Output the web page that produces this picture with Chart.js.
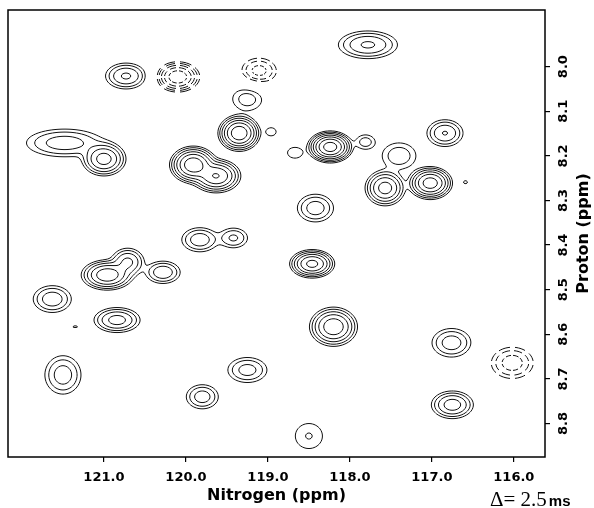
<!DOCTYPE html>
<html>
<head>
<meta charset="utf-8">
<script src="https://cdn.jsdelivr.net/npm/chart.js@4.4.1/dist/chart.umd.min.js"></script>
<style>
  html, body { margin: 0; padding: 0; background: #fff; }
  #wrap { width: 594px; height: 508px; }
</style>
</head>
<body>
<div id="wrap"><canvas id="hsqc" width="594" height="508"></canvas></div>
<script>
// peak list
// 15N shift, 1H shift, height (in units of the lowest contour), half-width of lowest contour
const peakN = [120.73, 120.10, 119.11, 119.25, 119.35, 118.96, 119.91, 119.63, 121.48, 121.00,
               117.78, 118.24, 117.81, 118.67, 117.40, 117.57, 117.02, 116.59, 116.84, 118.42,
               119.83, 119.42, 120.96, 120.71, 120.28, 121.63, 120.84, 121.35, 121.50, 119.25,
               119.80, 118.46, 118.20, 118.50, 116.76, 116.02, 116.75];
const peakH = [8.021, 8.023, 8.010, 8.072, 8.149, 8.146, 8.220, 8.245, 8.171, 8.207,
               7.951, 8.180, 8.169, 8.193, 8.200, 8.272, 8.261, 8.259, 8.149, 8.317,
               8.388, 8.384, 8.467, 8.438, 8.461, 8.521, 8.568, 8.583, 8.691, 8.680,
               8.740, 8.442, 8.583, 8.828, 8.619, 8.664, 8.758];
const peakAmp = [2.9, -5.0, -2.3, 1.7, 7.0, 1.3, 7.0, 5.5, 2.4, 4.5,
                 2.9, 9.0, 1.7, 1.3, 1.8, 4.5, 6.5, 1.2, 2.8, 2.4,
                 2.5, 2.1, 5.0, 3.0, 2.6, 2.5, 3.2, 1.2, 2.4, 2.3,
                 2.4, 6.0, 5.0, 1.43, 2.4, -2.4, 3.3];
const peakWidthN = [0.250, 0.269, 0.214, 0.180, 0.260, 0.060, 0.290, 0.300, 0.464, 0.269,
                    0.360, 0.280, 0.115, 0.090, 0.205, 0.245, 0.272, 0.024, 0.220, 0.220,
                    0.220, 0.171, 0.317, 0.200, 0.210, 0.232, 0.281, 0.030, 0.220, 0.238,
                    0.195, 0.275, 0.293, 0.165, 0.238, 0.256, 0.256];
const peakWidthH = [0.029, 0.034, 0.029, 0.026, 0.041, 0.009, 0.042, 0.038, 0.031, 0.038,
                    0.031, 0.036, 0.016, 0.012, 0.029, 0.040, 0.037, 0.0034, 0.030, 0.031,
                    0.027, 0.022, 0.034, 0.031, 0.025, 0.030, 0.028, 0.002, 0.043, 0.028,
                    0.027, 0.032, 0.044, 0.028, 0.032, 0.035, 0.031];

const levels = [1, 1.4, 1.96, 2.74, 3.84, 5.38, 7.53, 10.54];
const nitrogenTicks = [121, 120, 119, 118, 117, 116];
const protonTicks = [8.0, 8.1, 8.2, 8.3, 8.4, 8.5, 8.6, 8.7, 8.8];
const nitrogenRange = [115.62, 122.17];
const protonRange = [7.873, 8.875];

// marching squares on a pixel grid, calls seg() for each piece of the contour
const edgeTable = {1: [3, 2], 2: [2, 1], 3: [3, 1], 4: [0, 1], 5: [3, 0, 2, 1], 6: [0, 2], 7: [3, 0],
                   8: [3, 0], 9: [0, 2], 10: [0, 1, 3, 2], 11: [0, 1], 12: [3, 1], 13: [2, 1], 14: [3, 2]};

function march(field, nx, ny, sign, lev, seg) {
    for (let j = 0; j < ny - 1; j++) {
        for (let i = 0; i < nx - 1; i++) {
            const a = sign * field[j * nx + i], b = sign * field[j * nx + i + 1];
            const c = sign * field[(j + 1) * nx + i + 1], d = sign * field[(j + 1) * nx + i];
            const idx = (a > lev ? 8 : 0) | (b > lev ? 4 : 0) | (c > lev ? 2 : 0) | (d > lev ? 1 : 0);
            if (idx === 0 || idx === 15) continue;
            const pt = e => {
                if (e === 0) return [i + (lev - a) / (b - a), j];
                if (e === 1) return [i + 1, j + (lev - b) / (c - b)];
                if (e === 2) return [i + (lev - d) / (c - d), j + 1];
                return [i, j + (lev - a) / (d - a)];
            };
            const es = edgeTable[idx];
            for (let k = 0; k < es.length; k += 2) {
                const p = pt(es[k]), q = pt(es[k + 1]);
                seg(p[0], p[1], q[0], q[1]);
            }
        }
    }
}

const contourPlugin = {
    id: 'contours',
    beforeDatasetsDraw(chart) {
        const {ctx, chartArea: area, scales: {x, y}} = chart;
        const x0 = Math.floor(area.left), y0 = Math.floor(area.top);
        const nx = Math.ceil(area.right) - x0 + 1, ny = Math.ceil(area.bottom) - y0 + 1;

        const peaks = peakN.map((n, i) => {
            const k = Math.sqrt(2 * Math.log(Math.abs(peakAmp[i])));
            const cx = x.getPixelForValue(n), cy = y.getPixelForValue(peakH[i]);
            return {
                cx, cy, a: peakAmp[i],
                sx: Math.abs(x.getPixelForValue(n + peakWidthN[i]) - cx) / k,
                sy: Math.abs(y.getPixelForValue(peakH[i] + peakWidthH[i]) - cy) / k
            };
        });

        // overlapping peaks are combined as a root of summed squares, so neighbours
        // merge only where their own contours come close
        const pos = new Float32Array(nx * ny), neg = new Float32Array(nx * ny);
        peaks.forEach(p => {
            const acc = p.a > 0 ? pos : neg, a2 = p.a * p.a;
            const i0 = Math.max(0, Math.floor(p.cx - 5 * p.sx - x0)), i1 = Math.min(nx - 1, Math.ceil(p.cx + 5 * p.sx - x0));
            const j0 = Math.max(0, Math.floor(p.cy - 5 * p.sy - y0)), j1 = Math.min(ny - 1, Math.ceil(p.cy + 5 * p.sy - y0));
            for (let j = j0; j <= j1; j++) {
                const dy = (y0 + j - p.cy) / p.sy;
                for (let i = i0; i <= i1; i++) {
                    const dx = (x0 + i - p.cx) / p.sx;
                    acc[j * nx + i] += a2 * Math.exp(-(dx * dx + dy * dy));
                }
            }
        });
        const field = new Float32Array(nx * ny);
        for (let k = 0; k < field.length; k++) field[k] = Math.sqrt(pos[k]) - Math.sqrt(neg[k]);

        const negs = peaks.filter(p => p.a < 0);
        const dashOn = (mx, my) => {
            let best = null, bd = Infinity;
            negs.forEach(p => {
                const dd = ((mx - p.cx) / p.sx) ** 2 + ((my - p.cy) / p.sy) ** 2;
                if (dd < bd) { bd = dd; best = p; }
            });
            const ang = Math.atan2((my - best.cy) / best.sy, (mx - best.cx) / best.sx);
            const t = ang / (2 * Math.PI) * 8 + 8;
            const f = t - Math.floor(t);
            return f > 0.16 && f < 0.84;
        };

        ctx.save();
        ctx.beginPath();
        ctx.rect(area.left, area.top, area.right - area.left, area.bottom - area.top);
        ctx.clip();
        ctx.strokeStyle = '#111';
        ctx.lineWidth = 1;
        levels.forEach(lev => {
            [1, -1].forEach(sign => {
                ctx.beginPath();
                march(field, nx, ny, sign, lev, (ax, ay, bx, by) => {
                    ax += x0; bx += x0; ay += y0; by += y0;
                    if (sign < 0 && !dashOn((ax + bx) / 2, (ay + by) / 2)) return;
                    ctx.moveTo(ax, ay);
                    ctx.lineTo(bx, by);
                });
                ctx.stroke();
            });
        });
        ctx.restore();
    }
};

const framePlugin = {
    id: 'frame',
    afterDraw(chart) {
        const {ctx, chartArea: a} = chart;
        ctx.save();
        ctx.strokeStyle = '#000';
        ctx.lineWidth = 1.5;
        ctx.strokeRect(a.left, a.top, a.right - a.left, a.bottom - a.top);

        // proton axis title, reading upwards
        ctx.fillStyle = '#000';
        ctx.font = 'bold 16px "DejaVu Sans"';
        ctx.textAlign = 'center';
        ctx.textBaseline = 'middle';
        ctx.translate(584, (a.top + a.bottom) / 2);
        ctx.rotate(-Math.PI / 2);
        ctx.fillText('Proton (ppm)', 0, 0);
        ctx.restore();

        // mixing delay note
        ctx.save();
        ctx.fillStyle = '#000';
        ctx.textBaseline = 'alphabetic';
        ctx.textAlign = 'left';
        ctx.font = '21px "Liberation Serif"';
        ctx.fillText('\u0394= 2.5', 490, 506);
        const w = ctx.measureText('\u0394= 2.5').width;
        ctx.font = 'bold 15px "Liberation Sans"';
        ctx.fillText('ms', 490 + w + 2, 506);
        ctx.restore();
    }
};

const tickFont = {family: 'DejaVu Sans', weight: 'bold', size: 13};

new Chart(document.getElementById('hsqc'), {
    type: 'scatter',
    data: {
        datasets: [{
            label: 'peaks',
            data: peakN.map((n, i) => ({x: n, y: peakH[i]})),
            pointRadius: 0,
            pointHoverRadius: 0
        }]
    },
    options: {
        responsive: false,
        animation: false,
        events: [],
        layout: {padding: {left: 8, top: 10, right: 0, bottom: 0}},
        plugins: {legend: {display: false}, tooltip: {enabled: false}},
        scales: {
            x: {
                type: 'linear',
                reverse: true,
                min: nitrogenRange[0],
                max: nitrogenRange[1],
                afterBuildTicks: s => { s.ticks = nitrogenTicks.map(v => ({value: v})); },
                afterFit: s => { s.height = 51; },
                ticks: {
                    color: '#000', font: tickFont, padding: 8, maxRotation: 0, autoSkip: false,
                    callback: v => Number(v).toFixed(1)
                },
                grid: {drawOnChartArea: false, drawTicks: true, tickLength: 5, color: '#000', lineWidth: 1.2},
                border: {display: false},
                title: {
                    display: true, text: 'Nitrogen (ppm)', color: '#000',
                    font: {family: 'DejaVu Sans', weight: 'bold', size: 16},
                    padding: {top: 0, bottom: 3}
                }
            },
            y: {
                type: 'linear',
                position: 'right',
                reverse: true,
                min: protonRange[0],
                max: protonRange[1],
                afterBuildTicks: s => { s.ticks = protonTicks.map(v => ({value: v})); },
                afterFit: s => { s.width = 49; },
                ticks: {
                    color: '#000', font: tickFont, padding: 2, minRotation: 90, maxRotation: 90,
                    crossAlign: 'center', autoSkip: false,
                    callback: v => Number(v).toFixed(1)
                },
                grid: {drawOnChartArea: false, drawTicks: true, tickLength: 5, color: '#000', lineWidth: 1.2},
                border: {display: false}
            }
        }
    },
    plugins: [contourPlugin, framePlugin]
});
</script>
</body>
</html>
